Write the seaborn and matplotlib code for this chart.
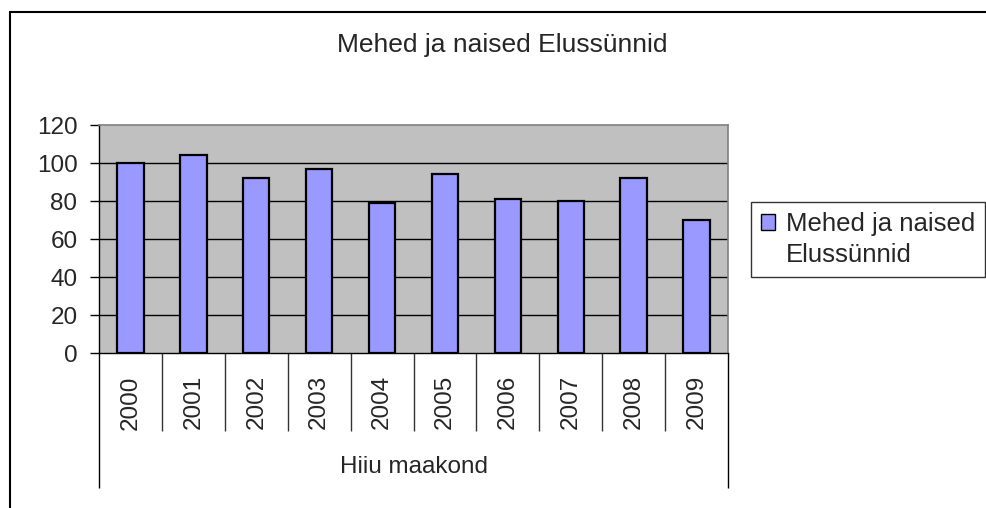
import matplotlib
matplotlib.use("Agg")
import matplotlib.pyplot as plt
import matplotlib.transforms as mtransforms
from matplotlib.lines import Line2D
from matplotlib.patches import Rectangle
import seaborn as sns

years = ["2000", "2001", "2002", "2003", "2004", "2005", "2006", "2007", "2008", "2009"]
births = [100, 104, 92, 97, 79, 94, 81, 80, 92, 70]
group_label = "Hiiu maakond"
series_name = "Mehed ja naised Elussünnid"
y_ticks = [0, 20, 40, 60, 80, 100, 120]

sns.set_style("white")
plt.rcParams["font.family"] = ["Liberation Sans", "DejaVu Sans"]
fs = 17.5

W, H = 986, 508
fig = plt.figure(figsize=(W / 100, H / 100), dpi=100)
ax = fig.add_axes([99 / W, 1 - 353 / H, (728 - 99) / W, (353 - 125) / H])
ax.set_facecolor("#C0C0C0")

sns.barplot(x=years, y=births, color="#9999FF", saturation=1, edgecolor="black",
            linewidth=1.6, width=0.42, ax=ax, zorder=3)

ax.set_ylim(0, 120)
ax.set_xlim(-0.5, len(years) - 0.5)
ax.set_yticks(y_ticks)
ax.set_yticklabels([str(t) for t in y_ticks], fontsize=fs)
for t in y_ticks[1:-1]:
    ax.axhline(t, color="black", linewidth=1, zorder=1)

ax.set_xticks(range(len(years)))
ax.set_xticklabels(years, rotation=90, fontsize=fs)
ax.tick_params(axis="x", length=0, pad=16)
ax.tick_params(axis="y", direction="out", length=6.5, width=1, color="black", pad=9, left=True)
ax.set_xlabel("")
ax.set_ylabel("")

for side in ["left", "bottom"]:
    ax.spines[side].set_color("black")
    ax.spines[side].set_linewidth(1)
for side in ["top", "right"]:
    ax.spines[side].set_color("#808080")
    ax.spines[side].set_linewidth(1.2)

# category separators below the axis
trans = mtransforms.blended_transform_factory(ax.transData, ax.transAxes)
inner = [i + 0.5 for i in range(len(years) - 1)]
ax.vlines(inner, -0.342, 0, transform=trans, color="#333333", linewidth=1, clip_on=False)
ax.vlines([-0.5, len(years) - 0.5], -0.592, 0, transform=trans, color="black", linewidth=1, clip_on=False)
ax.text(0.5, -0.5, group_label, transform=ax.transAxes, ha="center", va="center", fontsize=fs)

fig.text(502 / W, 1 - 45 / H, series_name, ha="center", va="center", fontsize=19)

# legend
words = series_name.split(" ")
h1 = Rectangle((0, 0), 1, 1, facecolor="#9999FF", edgecolor="black", linewidth=1)
h2 = Rectangle((0, 0), 1, 1, visible=False)
leg = fig.legend([h1, h2], [" ".join(words[:3]), words[3]], loc="upper left",
                 bbox_to_anchor=(751 / W, 1 - 202 / H), fontsize=18.5, frameon=True,
                 fancybox=False, edgecolor="black", handlelength=0.55, handleheight=0.55,
                 handletextpad=0.4, labelspacing=0.25, borderpad=0.4, borderaxespad=0)
leg.get_frame().set_linewidth(1)

# chart border
fig.add_artist(Line2D([10 / W, 10 / W], [0, 1 - 12 / H], color="black", linewidth=1.5))
fig.add_artist(Line2D([10 / W, 1], [1 - 12 / H, 1 - 12 / H], color="black", linewidth=1.5))

fig.savefig("out.png", dpi=100)
